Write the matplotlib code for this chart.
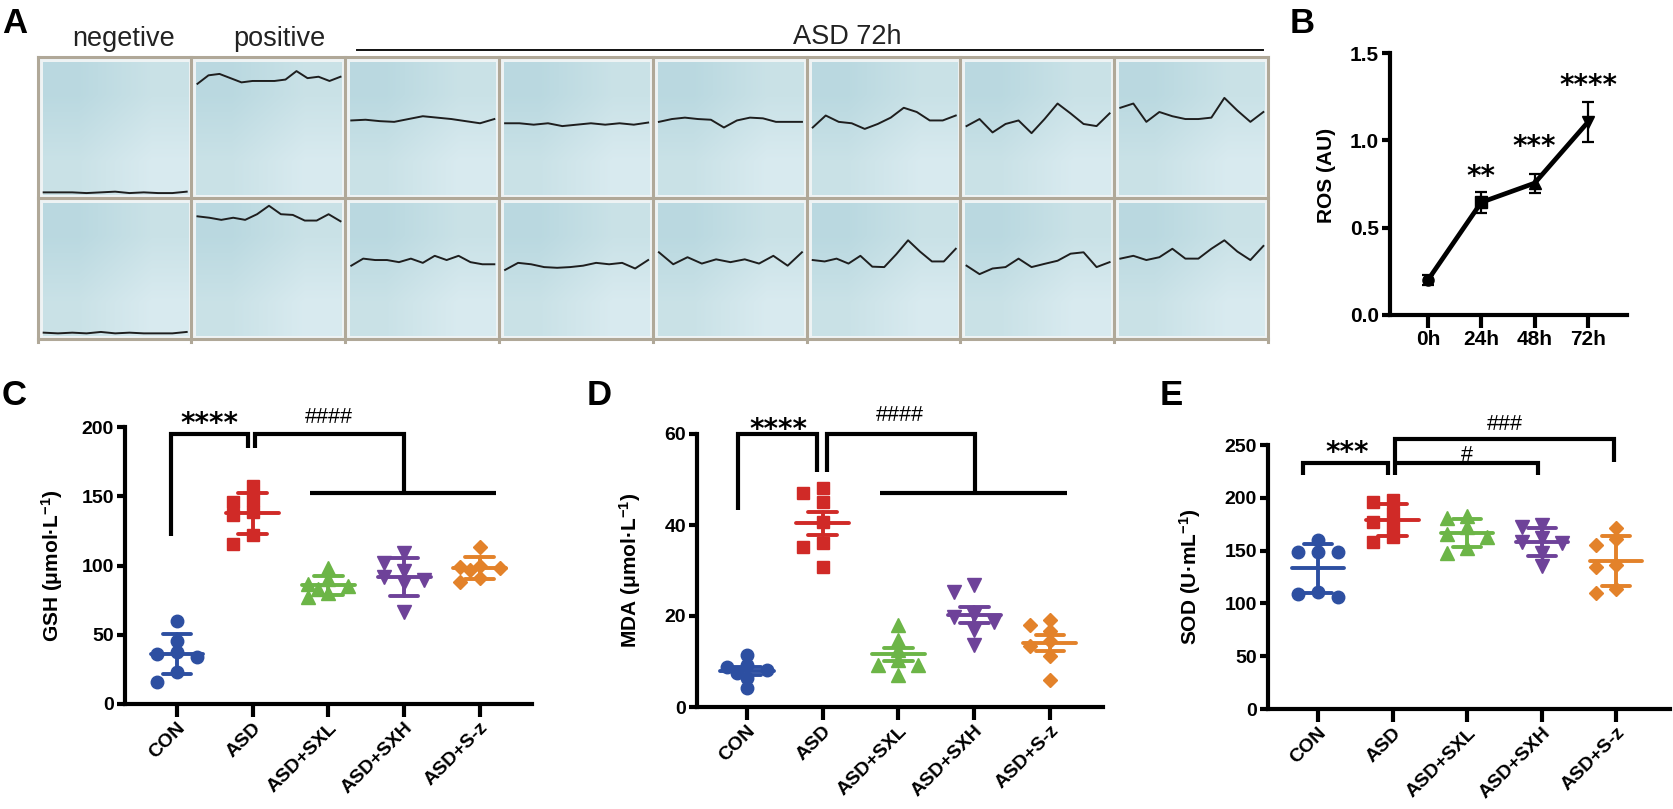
import numpy as np
import matplotlib
matplotlib.use('Agg')
import matplotlib.pyplot as plt

W, H = 1673, 809
plt.rcParams['font.family'] = ['Liberation Sans', 'DejaVu Sans']
plt.rcParams['mathtext.fontset'] = 'custom'
plt.rcParams['mathtext.default'] = 'regular'

# ---------------- data ----------------
# panel A: trace height in each cell (0 = top of cell, 1 = bottom)
top_row = [
    [0.96, 0.96, 0.96, 0.965, 0.96, 0.955, 0.965, 0.96, 0.965, 0.965, 0.955],
    [0.19, 0.13, 0.12, 0.15, 0.18, 0.17, 0.17, 0.17, 0.16, 0.10, 0.15, 0.14, 0.17, 0.14],
    [0.45, 0.445, 0.455, 0.46, 0.44, 0.42, 0.43, 0.44, 0.455, 0.47, 0.44],
    [0.47, 0.47, 0.48, 0.47, 0.49, 0.48, 0.47, 0.48, 0.47, 0.48, 0.465],
    [0.46, 0.44, 0.43, 0.44, 0.445, 0.5, 0.45, 0.43, 0.435, 0.46, 0.46, 0.46],
    [0.5, 0.415, 0.46, 0.47, 0.51, 0.475, 0.43, 0.36, 0.39, 0.45, 0.45, 0.415],
    [0.49, 0.44, 0.535, 0.475, 0.45, 0.54, 0.44, 0.33, 0.40, 0.475, 0.49, 0.40],
    [0.36, 0.33, 0.46, 0.39, 0.42, 0.44, 0.44, 0.43, 0.29, 0.38, 0.46, 0.39],
]
bottom_row = [
    [0.955, 0.96, 0.955, 0.96, 0.95, 0.96, 0.955, 0.96, 0.96, 0.96, 0.95],
    [0.13, 0.14, 0.155, 0.14, 0.155, 0.115, 0.055, 0.115, 0.12, 0.16, 0.16, 0.115, 0.165],
    [0.48, 0.43, 0.44, 0.44, 0.455, 0.43, 0.46, 0.41, 0.44, 0.41, 0.455, 0.47, 0.47],
    [0.51, 0.46, 0.47, 0.49, 0.495, 0.49, 0.48, 0.46, 0.47, 0.46, 0.5, 0.44],
    [0.385, 0.47, 0.42, 0.465, 0.435, 0.455, 0.435, 0.465, 0.41, 0.48, 0.385],
    [0.44, 0.45, 0.43, 0.465, 0.41, 0.487, 0.49, 0.40, 0.30, 0.38, 0.45, 0.45, 0.36],
    [0.48, 0.54, 0.50, 0.49, 0.43, 0.49, 0.467, 0.445, 0.395, 0.385, 0.49, 0.455],
    [0.43, 0.41, 0.44, 0.42, 0.36, 0.43, 0.43, 0.36, 0.30, 0.38, 0.44, 0.34],
]

# panel B
ros_times = ['0h', '24h', '48h', '72h']
ros_mean = [0.20, 0.645, 0.755, 1.105]
ros_err = [0.03, 0.06, 0.055, 0.115]
ros_stars = ['', '**', '***', '****']
ros_star_y = [0, 0.836, 1.007, 1.357]

groups = ['CON', 'ASD', 'ASD+SXL', 'ASD+SXH', 'ASD+S-z']
gsh = [[60, 45.7, 37.8, 35.9, 34.2, 22.9, 16.1],
       [157.4, 147.3, 145.8, 138.6, 136.5, 122, 115.5],
       [98, 90, 87, 85, 83, 80, 77],
       [109, 102, 96, 92, 89.5, 87.4, 66.4],
       [113.6, 100, 99, 98, 96.5, 91, 88.3]]
mda = [[11.4, 9.2, 8.8, 8.2, 7.5, 6.4, 4.2],
       [48.1, 47.0, 45.1, 40.7, 36.0, 35.2, 30.8],
       [18.0, 14.7, 12.5, 10.3, 9.2, 9.2, 7.0],
       [26.8, 25.3, 20.2, 19.8, 18.7, 16.9, 13.6],
       [19.1, 18.0, 16.8, 14.4, 13.5, 11.1, 5.9]]
sod = [[160, 149, 149, 149, 111, 106, 109],
       [198, 196, 186, 177, 174, 163, 158],
       [183, 181, 172, 166, 163, 152, 148],
       [174, 172, 162, 158, 157, 148, 135],
       [171, 161, 155, 136, 134, 114, 110]]

colors = ['#2d4fa1', '#d02a27', '#6cb547', '#6e4299', '#e3822a']
markers = ['o', 's', '^', 'v', 'D']
msizes = [9, 8, 9.5, 9.5, 7]

fig = plt.figure(figsize=(W / 100, H / 100), dpi=100)


def rect(l, t, r, b):
    return [l / W, 1 - b / H, (r - l) / W, (b - t) / H]


def fpt(x, y):
    return x / W, 1 - y / H


# ---------------- panel A ----------------
axa = fig.add_axes(rect(37.5, 57, 1268, 339))
axa.axis('off')
grad = np.array([[[0.73, 0.85, 0.88], [0.79, 0.885, 0.905]],
                 [[0.79, 0.885, 0.905], [0.85, 0.92, 0.94]]])
cw, ch = (1268 - 37.5) / 8, 141.0
for r, row in enumerate([top_row, bottom_row]):
    for c, tr in enumerate(row):
        axa.add_patch(plt.Rectangle((c, r), 1, 1, color='#eef3f4', zorder=0))
        axa.imshow(grad, extent=(c + 5 / cw, c + 1 - 3 / cw, r + 1 - 3 / ch, r + 5 / ch),
                   origin='upper', interpolation='bilinear', aspect='auto', zorder=1)
        xs = c + np.linspace(0.04, 0.97, len(tr))
        axa.plot(xs, r + np.array(tr), color='#1e1e1e', lw=1.4, zorder=3)
for c in range(9):
    axa.plot([c, c], [0, 2.02], color='#b0a898', lw=2.2, zorder=4, clip_on=False)
for r in range(3):
    axa.plot([0, 8], [r, r], color='#b0a898', lw=2.2, zorder=4, clip_on=False)
axa.set_xlim(0, 8)
axa.set_ylim(2, 0)

fig.text(*fpt(124, 46), 'negetive', fontsize=19.5, ha='center', va='baseline', color='#222222')
fig.text(*fpt(279, 46), 'positive', fontsize=19.5, ha='center', va='baseline', color='#222222')
fig.text(*fpt(847, 44), 'ASD 72h', fontsize=19.5, ha='center', va='baseline', color='#222222')
fig.add_artist(plt.Line2D([357 / W, 1263 / W], [1 - 50 / H, 1 - 50 / H], color='#111111', lw=1.4))

# ---------------- panel letters ----------------
for lab, x, y in [('A', 2, 33), ('B', 1290, 33), ('C', 2, 405), ('D', 587, 405), ('E', 1160, 405)]:
    fig.text(*fpt(x, y), lab, fontsize=25, fontweight='bold', ha='left', va='baseline')


def style_axes(ax, xlim, ylim, yticks, labels, lsize=14):
    ax.set_xlim(*xlim)
    ax.set_ylim(*ylim)
    for s in ['top', 'right']:
        ax.spines[s].set_visible(False)
    for s in ['left', 'bottom']:
        ax.spines[s].set_linewidth(3)
    ax.set_yticks(yticks)
    ax.set_xticks(range(len(labels)))
    ax.tick_params(axis='both', width=3, labelsize=lsize, pad=2)
    ax.tick_params(axis='y', length=6)
    ax.tick_params(axis='x', length=9)
    ax.patch.set_alpha(0)


def star(ax, x, y, s, size=20):
    ax.annotate(s, (x, y), xytext=(0, -0.57 * size), textcoords='offset points', ha='center',
                va='baseline', fontsize=size, fontweight='bold', family='DejaVu Sans',
                annotation_clip=False)


def hashes(ax, x, y, s):
    ax.annotate(s, (x, y), xytext=(0, -5.3), textcoords='offset points', ha='center',
                va='baseline', fontsize=15.5, annotation_clip=False)


def bracket(ax, xs, ys):
    ax.plot(xs, ys, color='k', lw=3, clip_on=False, solid_joinstyle='miter',
            solid_capstyle='butt', zorder=5)


# ---------------- panel B ----------------
axb = fig.add_axes(rect(1390, 53, 1627, 315))
style_axes(axb, (-0.71, 3.73), (0, 1.5), [0, 0.5, 1.0, 1.5], ros_times, lsize=15)
axb.set_yticklabels(['0.0', '0.5', '1.0', '1.5'])
axb.set_xticklabels(ros_times)
xb = np.arange(len(ros_mean))
axb.errorbar(xb, ros_mean, yerr=ros_err, color='k', lw=3.4, capsize=4.5, elinewidth=1.6,
             capthick=1.6, zorder=3)
for i, m in enumerate(['o', 's', '^', 'v']):
    axb.plot(xb[i], ros_mean[i], marker=m, ms=8, color='k', zorder=4)
for i in range(1, 4):
    star(axb, xb[i], ros_star_y[i], ros_stars[i])
fig.text(*fpt(1327, 175), 'ROS (AU)', fontsize=15, fontweight='bold', rotation=90,
         ha='center', va='center')


# ---------------- dot plots ----------------
def swarm(ax, pos, vals, px_unit):
    # spread overlapping points sideways (prism-like), offsets tried in pixels
    ypx = ax.transData.transform(np.column_stack([np.full(len(vals), pos), vals]))[:, 1]
    placed = []
    xs = np.zeros(len(vals))
    for i in np.argsort(vals)[::-1]:
        best, best_d = 0, -1
        for off in [0, -20, 20, -10, 10]:
            d = min([np.hypot(off - po, ypx[i] - py) for po, py in placed] + [99])
            if d >= 10:
                best = off
                break
            if d > best_d:
                best, best_d = off, d
        placed.append((best, ypx[i]))
        xs[i] = pos + best / px_unit
    return xs


def dot_panel(ax, data, use_sem):
    bb = ax.get_position()
    x0, x1 = ax.get_xlim()
    px_unit = bb.width * W / (x1 - x0)
    for g, vals in enumerate(data):
        vals = np.array(vals, float)
        xs = swarm(ax, g, vals, px_unit)
        ax.plot(xs, vals, ls='none', marker=markers[g], ms=msizes[g], color=colors[g],
                mec=colors[g], zorder=3, clip_on=False)
        mean = vals.mean()
        err = vals.std(ddof=1)
        if use_sem:
            err = err / np.sqrt(len(vals))
        kw = dict(color=colors[g], lw=2.8, solid_capstyle='round', zorder=4)
        ax.plot([g - 0.35, g + 0.35], [mean, mean], **kw)
        ax.plot([g, g], [mean - err, mean + err], **kw)
        ax.plot([g - 0.19, g + 0.19], [mean - err, mean - err], **kw)
        ax.plot([g - 0.19, g + 0.19], [mean + err, mean + err], **kw)


def xlabels(ax):
    ax.set_xticklabels(groups, rotation=45, ha='right', va='top', rotation_mode='anchor')


# C
axc = fig.add_axes(rect(125, 427, 532, 704))
style_axes(axc, (-0.687, 4.69), (0, 200), [0, 50, 100, 150, 200], groups)
xlabels(axc)
dot_panel(axc, gsh, False)
bracket(axc, [-0.08, -0.08, 0.94, 0.94], [121, 195, 195, 185])
bracket(axc, [1.03, 1.03, 3.0, 3.0], [185, 195, 195, 152])
bracket(axc, [1.76, 4.21], [152, 152])
star(axc, 0.43, 208, '****')
hashes(axc, 2.0, 208, '####')
fig.text(*fpt(52, 566), 'GSH (μmol·L$^{-1}$)', fontsize=15, fontweight='bold', rotation=90,
         ha='center', va='center')

# D
axd = fig.add_axes(rect(697, 434, 1103, 707))
style_axes(axd, (-0.66, 4.70), (0, 60), [0, 20, 40, 60], groups)
xlabels(axd)
dot_panel(axd, mda, True)
bracket(axd, [-0.12, -0.12, 0.92, 0.92], [43.3, 60, 60, 51.6])
bracket(axd, [1.06, 1.06, 3.01, 3.01], [51.6, 60, 60, 47])
bracket(axd, [1.76, 4.23], [47, 47])
star(axd, 0.42, 62.7, '****')
hashes(axd, 2.02, 64.4, '####')
fig.text(*fpt(630, 570), 'MDA (μmol·L$^{-1}$)', fontsize=15, fontweight='bold', rotation=90,
         ha='center', va='center')

# E
axe = fig.add_axes(rect(1268, 445, 1670, 709))
style_axes(axe, (-0.67, 4.72), (0, 250), [0, 50, 100, 150, 200, 250], groups)
xlabels(axe)
dot_panel(axe, sod, False)
bracket(axe, [-0.2, -0.2, 0.94, 0.94], [221.6, 233, 233, 221.6])
bracket(axe, [1.03, 1.03, 3.97, 3.97], [221.6, 255.7, 255.7, 234])
bracket(axe, [1.03, 2.95, 2.95], [233, 233, 221.6])
star(axe, 0.39, 250, '***')
hashes(axe, 2.5, 271, '###')
hashes(axe, 2.0, 242, '#')
fig.text(*fpt(1190, 577), 'SOD (U·mL$^{-1}$)', fontsize=15, fontweight='bold', rotation=90,
         ha='center', va='center')

for ax in [axb, axc, axd, axe]:
    for lab in ax.get_xticklabels() + ax.get_yticklabels():
        lab.set_fontweight('bold')

fig.savefig('out.png', dpi=100)
